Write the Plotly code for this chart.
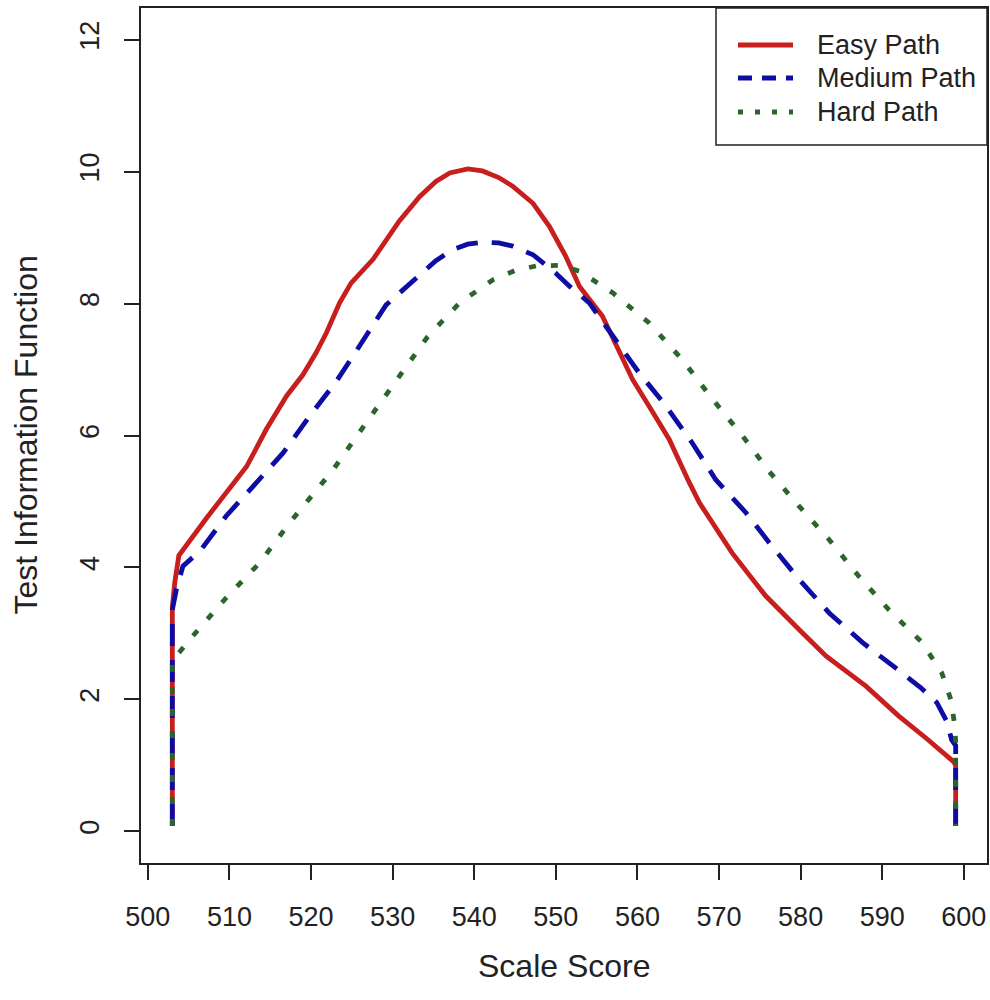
import plotly.graph_objects as go

# Test information curves for the three routing paths (scale score vs TIF)
easy_x = [503.0, 503.0, 503.3, 503.8, 507.2, 511.3, 512.1, 514.5, 517.0, 519.0,
          520.6, 521.9, 523.5, 524.9, 527.6, 530.8, 533.3, 535.3, 537.0, 539.2,
          541.0, 543.0, 544.7, 547.2, 549.2, 551.2, 552.9, 555.7, 557.4, 559.4,
          561.9, 563.9, 566.3, 567.6, 571.6, 575.7, 579.8, 583.1, 588.0, 592.0,
          595.5, 598.8, 599.0, 599.0]
easy_y = [0.08, 3.40, 3.77, 4.18, 4.75, 5.38, 5.53, 6.09, 6.60, 6.92,
          7.25, 7.56, 8.01, 8.31, 8.67, 9.25, 9.62, 9.85, 9.98, 10.04,
          10.01, 9.91, 9.78, 9.52, 9.17, 8.72, 8.26, 7.81, 7.35, 6.85,
          6.35, 5.94, 5.30, 4.98, 4.22, 3.57, 3.06, 2.66, 2.20, 1.75,
          1.40, 1.05, 1.00, 0.08]

medium_x = [503.0, 503.0, 503.5, 504.3, 506.4, 509.6, 512.9, 516.6, 519.8, 523.1,
            525.9, 529.2, 531.2, 533.3, 535.3, 537.4, 539.2, 541.0, 543.0, 544.7,
            547.2, 550.0, 551.7, 554.1, 556.1, 557.8, 560.2, 563.3, 566.7, 569.6,
            573.3, 576.5, 579.8, 583.5, 587.6, 591.6, 594.7, 596.7, 597.9, 598.5,
            599.0, 599.0]
medium_y = [0.08, 3.36, 3.67, 4.02, 4.25, 4.78, 5.23, 5.74, 6.29, 6.82,
            7.35, 7.98, 8.20, 8.43, 8.65, 8.82, 8.90, 8.93, 8.92, 8.87,
            8.74, 8.46, 8.26, 8.01, 7.66, 7.35, 6.95, 6.48, 5.89, 5.33,
            4.83, 4.32, 3.82, 3.31, 2.86, 2.48, 2.18, 1.95, 1.67, 1.39,
            1.30, 0.08]

hard_x = [503.0, 503.0, 503.5, 505.5, 509.6, 513.7, 517.4, 522.7, 527.6, 531.2,
          534.3, 538.2, 542.3, 545.0, 547.6, 550.5, 552.9, 557.0, 561.4, 565.5,
          569.2, 572.9, 576.1, 579.8, 583.5, 587.1, 590.8, 594.9, 597.3, 598.4,
          598.9, 599.0, 599.0]
hard_y = [0.08, 2.60, 2.66, 2.96, 3.54, 4.07, 4.68, 5.48, 6.34, 6.95,
          7.50, 8.01, 8.36, 8.50, 8.57, 8.58, 8.49, 8.16, 7.71, 7.15,
          6.55, 5.99, 5.46, 4.93, 4.42, 3.87, 3.36, 2.86, 2.40, 2.00,
          1.60, 1.35, 0.08]

series_names = ["Easy Path", "Medium Path", "Hard Path"]
series_colors = ["#C81E1E", "#0D0DA6", "#2B652B"]
series_dash = ["solid", "22px,14px", "7px,15px"]
legend_dash = ["solid", "14px,10px", "5px,12px"]

x_ticks = [500, 510, 520, 530, 540, 550, 560, 570, 580, 590, 600]
y_ticks = [0, 2, 4, 6, 8, 10, 12]

FONT = "Liberation Sans, Arial, Helvetica, sans-serif"
INK = "#222222"

W, H = 990, 1000
ML, MR, MT, MB = 141, 3, 8, 137
PW, PH = W - ML - MR, H - MT - MB


def fx(px):
    return (px - ML) / PW


def fy(py):
    return (H - MB - py) / PH


fig = go.Figure()
for xs, ys, name, col, dash in zip([easy_x, medium_x, hard_x],
                                   [easy_y, medium_y, hard_y],
                                   series_names, series_colors, series_dash):
    fig.add_trace(go.Scatter(x=xs, y=ys, mode="lines", name=name,
                             line=dict(color=col, width=4.8, dash=dash),
                             showlegend=False))

# legend box in the top-right corner
shapes = [dict(type="rect", xref="paper", yref="paper",
               x0=fx(716), x1=1, y0=fy(145), y1=1,
               line=dict(color=INK, width=1.5), fillcolor="white", layer="above")]
annotations = []
rows = [45, 78, 112]
for name, col, dash, ry in zip(series_names, series_colors, legend_dash, rows):
    shapes.append(dict(type="line", xref="paper", yref="paper",
                       x0=fx(738), x1=fx(793), y0=fy(ry), y1=fy(ry),
                       line=dict(color=col, width=4.8, dash=dash),
                       layer="above"))
    annotations.append(dict(xref="paper", yref="paper", x=fx(815), y=fy(ry),
                            xanchor="left", yanchor="middle", showarrow=False,
                            text=name, font=dict(family=FONT, size=27, color=INK)))

annotations.append(dict(xref="paper", yref="paper", x=0.5, y=fy(966),
                        xanchor="center", yanchor="middle", showarrow=False,
                        text="Scale Score", font=dict(family=FONT, size=32, color=INK)))
annotations.append(dict(xref="paper", yref="paper", x=fx(25), y=0.5,
                        xanchor="center", yanchor="middle", showarrow=False, textangle=-90,
                        text="Test Information Function",
                        font=dict(family=FONT, size=32, color=INK)))

fig.update_layout(
    width=W, height=H,
    margin=dict(l=ML, r=MR, t=MT, b=MB, autoexpand=False),
    paper_bgcolor="white", plot_bgcolor="white",
    showlegend=False,
    shapes=shapes, annotations=annotations,
    font=dict(family=FONT, color=INK),
)
fig.update_xaxes(range=[499.16, 602.84], tickvals=x_ticks, ticktext=[str(v) for v in x_ticks],
                 ticks="outside", ticklen=15, tickwidth=1.5, tickcolor=INK,
                 showline=True, mirror=True, linecolor=INK, linewidth=1.5,
                 showgrid=False, zeroline=False,
                 tickfont=dict(family=FONT, size=27, color=INK), ticklabelstandoff=14)
fig.update_yaxes(range=[-0.48, 12.48], tickvals=y_ticks, ticktext=[str(v) for v in y_ticks],
                 ticks="outside", ticklen=15, tickwidth=1.5, tickcolor=INK,
                 showline=True, mirror=True, linecolor=INK, linewidth=1.5,
                 showgrid=False, zeroline=False, tickangle=-90,
                 tickfont=dict(family=FONT, size=27, color=INK), ticklabelstandoff=14)

fig.write_html("out.html")
